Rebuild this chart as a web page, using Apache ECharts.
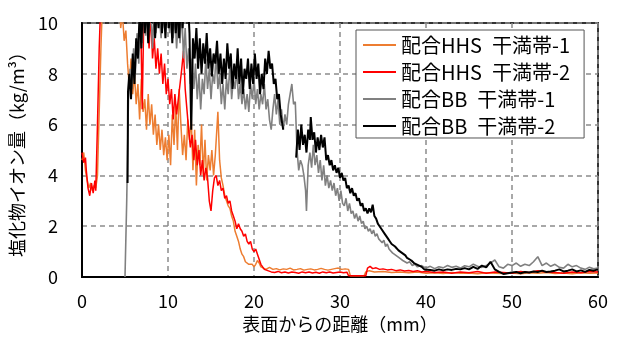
<!DOCTYPE html>
<html>
<head>
<meta charset="utf-8">
<script src="https://cdn.jsdelivr.net/npm/echarts@6/dist/echarts.min.js"></script>
<style>
  html, body { margin: 0; padding: 0; background: #fff; }
  #chart { width: 618px; height: 340px; }
</style>
</head>
<body>
<div id="chart"></div>
<script>
const seriesNames = ["配合HHS\u2002干満帯-1", "配合HHS\u2002干満帯-2", "配合BB\u2002干満帯-1", "配合BB\u2002干満帯-2"];
const xTicks = [0, 10, 20, 30, 40, 50, 60];
const yTicks = [0, 2, 4, 6, 8, 10];

// [距離 mm, 塩化物イオン量 kg/m3]; values above 10 run off the top
const hhs1 = [
  [0,4.6],[0.2,4.9],[0.4,4.2],[0.6,3.8],[0.8,3.5],[1.0,3.7],[1.2,3.4],[1.4,3.6],[1.6,3.5],[1.8,4.0],
  [2.0,6.5],[2.2,9.0],[2.4,11],[3.0,12],[4.0,12],[4.3,11.2],[4.5,9.8],[4.7,10.4],[4.9,9.3],[5.1,9.7],
  [5.3,8.4],[5.5,7.5],[5.7,8.6],[5.9,7.2],[6.1,8.0],[6.3,6.8],[6.5,7.6],[6.7,6.2],[6.9,7.8],[7.1,6.5],
  [7.3,7.0],[7.5,5.8],[7.7,7.2],[7.9,6.0],[8.1,6.8],[8.3,5.6],[8.5,6.4],[8.7,5.2],[8.9,6.0],[9.1,5.0],
  [9.3,5.8],[9.5,4.8],[9.7,5.5],[9.9,4.6],[10.1,5.6],[10.3,4.4],[10.5,6.4],[10.7,5.2],[10.9,6.8],[11.1,5.0],
  [11.3,7.4],[11.5,6.0],[11.7,4.8],[11.9,5.6],[12.1,4.6],[12.3,6.2],[12.5,5.4],[12.7,6.3],[12.9,4.2],[13.1,5.8],
  [13.3,3.6],[13.5,5.2],[13.7,4.4],[13.9,6.0],[14.1,4.0],[14.3,5.4],[14.5,3.8],[14.7,4.8],[14.9,4.2],[15.1,5.0],
  [15.3,4.0],[15.5,4.8],[15.8,6.5],[16.0,4.6],[16.2,3.9],[16.4,3.6],[16.6,3.2],[16.8,3.0],[17.0,2.8],[17.2,2.7],
  [17.4,2.4],[17.6,2.2],[17.8,1.8],[18.0,1.6],[18.2,1.4],[18.4,1.1],[18.6,0.9],[18.8,0.8],[19.0,0.6],[19.2,0.6],
  [19.4,0.5],[19.6,0.45],[19.8,0.5],[20.0,0.4],[20.2,0.5],[20.4,0.65],[20.6,0.55],[20.8,0.4],[21.0,0.35],[21.4,0.3],
  [21.8,0.38],[22.2,0.3],[22.6,0.33],[23.0,0.28],[23.4,0.32],[23.8,0.3],[24.2,0.35],[24.6,0.28],[25.0,0.3],[25.4,0.33],
  [25.8,0.27],[26.2,0.3],[26.6,0.32],[27.0,0.28],[27.4,0.3],[27.8,0.34],[28.2,0.3],[28.6,0.27],[29.0,0.3],[29.4,0.33],
  [29.8,0.35],[30.2,0.3],[30.6,0.32],[31.0,0.3],[31.2,0.05],[32.8,0.05],[33.0,0.2],[33.4,0.25],[34,0.2],[35,0.22],
  [36,0.18],[37,0.2],[38,0.17],[39,0.2],[40,0.15],[41,0.17],[42,0.14],[43,0.18],[44,0.15],[45,0.16],
  [46,0.13],[47,0.17],[48,0.15],[49,0.14],[50,0.16],[51,0.13],[52,0.17],[53,0.15],[54,0.18],[55,0.14],
  [56,0.16],[57,0.13],[58,0.17],[59,0.15],[60,0.16]
];

const hhs2 = [
  [0,4.9],[0.2,4.5],[0.4,4.7],[0.5,4.2],[0.7,3.5],[0.9,3.2],[1.1,3.7],[1.3,3.3],[1.5,3.8],[1.6,3.4],
  [1.8,6.0],[2.0,9.0],[2.2,11],[3,12],[6.5,12],[6.8,10.8],[7.0,6.6],[7.2,10.5],[7.4,11],[7.6,10.2],
  [7.8,9.0],[8.0,10.4],[8.2,8.6],[8.4,9.4],[8.6,8.2],[8.8,9.0],[9.0,8.0],[9.2,8.8],[9.4,7.6],[9.6,8.4],
  [9.8,7.2],[10.0,7.8],[10.2,6.8],[10.4,7.4],[10.6,6.2],[10.8,7.2],[11.0,6.4],[11.2,7.0],[11.4,7.6],[11.6,8.2],
  [11.8,8.9],[12.0,7.4],[12.2,6.6],[12.4,5.8],[12.6,5.1],[12.8,5.6],[13.0,4.6],[13.2,5.4],[13.4,4.4],[13.6,5.0],
  [13.8,4.0],[14.0,4.6],[14.2,3.8],[14.4,4.3],[14.6,3.9],[14.8,3.0],[15.0,2.6],[15.2,3.4],[15.4,3.9],[15.6,4.0],
  [15.8,3.6],[16.0,3.8],[16.2,3.4],[16.4,3.5],[16.6,3.1],[16.8,3.2],[17.0,2.9],[17.2,3.0],[17.4,2.6],[17.6,2.4],
  [17.8,2.2],[18.0,1.9],[18.2,2.1],[18.4,1.9],[18.6,1.8],[18.8,1.6],[19.0,1.7],[19.2,1.4],[19.4,1.3],[19.6,1.4],
  [19.8,1.1],[20.0,1.0],[20.2,1.1],[20.4,0.9],[20.6,0.7],[20.8,0.5],[21.0,0.4],[21.2,0.3],[21.6,0.25],[22.0,0.2],
  [22.4,0.18],[22.8,0.22],[23.2,0.17],[23.6,0.2],[24.0,0.16],[24.4,0.2],[24.8,0.18],[25.2,0.15],[25.6,0.2],[26.0,0.17],
  [26.4,0.2],[26.8,0.16],[27.2,0.19],[27.6,0.15],[28.0,0.2],[28.4,0.17],[28.8,0.2],[29.2,0.16],[29.6,0.18],[30.0,0.2],
  [30.4,0.17],[30.8,0.19],[31.0,0.05],[33.0,0.05],[33.2,0.35],[33.5,0.42],[33.8,0.33],[34.2,0.36],[34.6,0.3],[35.0,0.32],
  [35.5,0.28],[36.0,0.3],[36.5,0.25],[37.0,0.28],[37.5,0.24],[38.0,0.26],[38.5,0.22],[39.0,0.25],[39.5,0.2],[40.0,0.22],
  [41,0.18],[42,0.2],[43,0.15],[44,0.2],[45,0.17],[46,0.22],[47,0.15],[48,0.2],[49,0.18],[50,0.15],
  [51,0.22],[52,0.18],[53,0.25],[54,0.2],[55,0.18],[56,0.15],[57,0.2],[58,0.17],[59,0.22],[60,0.2]
];

const bb1 = [
  [5.0,0],[5.2,3.0],[5.4,7.0],[5.6,8.2],[5.8,7.4],[6.0,9.0],[6.2,8.0],[6.4,9.6],[6.6,8.4],[6.8,10.5],
  [7.0,9.2],[7.2,10.8],[7.4,9.5],[7.6,11],[7.8,9.8],[8.0,10.6],[8.2,9.0],[8.4,10.4],[8.6,9.6],[8.8,11],
  [9.0,10.2],[9.2,9.4],[9.4,10.8],[9.6,9.8],[9.8,11],[10.0,10.2],[10.2,9.6],[10.4,10.8],[10.6,9.4],[10.8,10.4],
  [11.0,9.0],[11.2,10.2],[11.4,9.2],[11.6,10.6],[11.8,8.6],[12.0,9.8],[12.2,8.2],[12.4,9.0],[12.6,7.6],[12.8,8.6],
  [13.0,7.4],[13.2,8.4],[13.4,7.0],[13.6,8.0],[13.8,6.6],[14.0,7.8],[14.2,7.2],[14.4,8.6],[14.6,7.4],[14.8,8.2],
  [15.0,7.0],[15.2,8.0],[15.4,7.6],[15.6,8.8],[15.8,7.4],[16.0,8.0],[16.2,6.8],[16.4,7.6],[16.6,6.6],[16.8,7.8],
  [17.0,7.2],[17.2,8.4],[17.4,7.0],[17.6,7.8],[17.8,7.4],[18.0,8.2],[18.2,7.0],[18.4,7.6],[18.6,6.8],[18.8,7.4],
  [19.0,6.6],[19.2,7.2],[19.4,6.5],[19.6,7.6],[19.8,7.0],[20.0,7.8],[20.2,6.8],[20.4,7.4],[20.6,6.6],[20.8,7.2],
  [21.0,6.8],[21.2,7.6],[21.4,6.6],[21.6,7.0],[21.8,6.2],[22.0,5.8],[22.2,6.6],[22.4,7.2],[22.6,6.4],[22.8,7.0],
  [23.0,6.0],[23.2,6.6],[23.4,5.8],[23.6,6.4],[23.8,6.0],[24.0,6.8],[24.2,7.2],[24.4,7.6],[24.6,6.8],[24.8,6.9],
  [25.0,5.0],[25.2,4.2],[25.4,4.6],[25.6,4.4],[25.8,4.0],[26.0,3.4],[26.1,2.6],[26.3,4.4],[26.5,4.9],[26.7,4.3],
  [26.9,5.2],[27.1,4.4],[27.3,4.8],[27.5,4.1],[27.7,4.6],[27.9,3.8],[28.1,4.4],[28.3,3.6],[28.5,4.0],[28.7,3.5],
  [28.9,3.8],[29.1,3.4],[29.3,3.7],[29.5,3.2],[29.7,3.5],[29.9,3.0],[30.1,3.4],[30.3,2.9],[30.5,2.8],[30.7,3.1],
  [30.9,2.6],[31.1,2.9],[31.3,2.5],[31.5,2.6],[31.7,2.3],[31.9,2.5],[32.1,2.2],[32.3,2.4],[32.5,2.1],[32.7,2.2],
  [32.9,1.9],[33.1,2.0],[33.3,1.8],[33.5,1.9],[33.7,1.7],[33.9,1.85],[34.1,1.6],[34.3,1.7],[34.5,1.5],[34.7,1.55],
  [34.9,1.35],[35.1,1.45],[35.3,1.2],[35.5,1.3],[35.7,1.1],[35.9,1.15],[36.1,0.95],[36.3,1.0],[36.5,0.85],[36.7,0.9],
  [36.9,0.75],[37.1,0.8],[37.3,0.65],[37.5,0.7],[37.8,0.55],[38.1,0.6],[38.4,0.45],[38.7,0.5],[39.0,0.4],[39.5,0.45],
  [40,0.35],[40.5,0.42],[41,0.33],[41.5,0.4],[42,0.36],[42.5,0.45],[43,0.38],[43.5,0.42],[44,0.35],[44.5,0.44],
  [45,0.4],[45.5,0.5],[46,0.42],[46.5,0.38],[47,0.45],[47.5,0.55],[48,0.67],[48.5,0.4],[49,0.35],[49.5,0.5],
  [50,0.45],[50.5,0.55],[51,0.42],[51.5,0.5],[52,0.45],[52.5,0.6],[53,0.8],[53.5,0.45],[54,0.55],[54.5,0.42],
  [55,0.5],[55.5,0.38],[56,0.35],[56.5,0.5],[57,0.4],[57.5,0.45],[58,0.35],[58.5,0.3],[59,0.38],[59.5,0.32],[60,0.35]
];

const bb2 = [
  [5.3,3.7],[5.35,7.3],[5.5,8.0],[5.7,7.0],[5.9,8.8],[6.1,7.6],[6.3,9.4],[6.5,8.6],[6.7,10.4],[6.9,9.0],
  [7.1,11],[7.3,9.6],[7.5,10.8],[7.7,9.2],[7.9,11],[8.1,10],[8.3,11],[8.5,9.4],[8.7,10.6],[8.9,9.8],
  [9.1,11],[9.3,9.6],[9.5,10.8],[9.7,9.4],[9.9,11],[10.1,9.8],[10.3,10.8],[10.5,9.2],[10.7,11],[10.9,9.6],
  [11.1,10.6],[11.3,9.4],[11.5,10.8],[11.7,9.8],[11.9,11],[12.1,10.2],[12.3,11],[12.5,9.6],[12.7,5.8],[12.9,9.4],
  [13.1,8.6],[13.3,9.8],[13.5,8.2],[13.7,9.4],[13.9,8.0],[14.1,9.2],[14.3,8.4],[14.5,9.6],[14.7,8.2],[14.9,9.0],
  [15.1,7.9],[15.3,8.8],[15.5,8.4],[15.7,9.3],[15.9,8.0],[16.1,8.8],[16.3,7.6],[16.5,8.6],[16.7,7.8],[16.9,9.2],
  [17.1,8.2],[17.3,8.8],[17.5,7.4],[17.7,8.4],[17.9,7.8],[18.1,9.0],[18.3,7.6],[18.5,8.6],[18.7,7.2],[18.9,8.2],
  [19.1,7.8],[19.3,8.6],[19.5,7.4],[19.7,8.4],[19.9,7.6],[20.1,8.8],[20.3,7.8],[20.5,8.4],[20.7,7.2],[20.9,8.0],
  [21.1,7.4],[21.3,8.6],[21.5,8.0],[21.7,8.9],[21.9,8.2],[22.1,8.4],[22.3,7.6],[22.5,7.8],[22.7,7.0],[22.9,7.2],
  [23.1,6.4],[23.3,6.0],[23.4,5.8],[24.2,null],
  [24.9,4.7],[25.1,5.8],[25.3,5.0],[25.5,6.0],[25.7,5.2],[25.9,5.6],[26.1,4.9],[26.3,5.8],[26.5,5.4],[26.6,6.3],
  [26.8,5.4],[27.0,5.7],[27.2,4.9],[27.4,5.5],[27.6,5.0],[27.8,5.6],[28.0,5.1],[28.2,5.5],[28.4,4.6],[28.6,4.8],
  [28.8,4.4],[29.0,4.6],[29.2,4.2],[29.4,4.4],[29.6,4.1],[29.8,4.3],[30.0,3.9],[30.2,4.1],[30.4,3.8],[30.6,3.9],
  [30.8,3.5],[31.0,3.6],[31.2,3.3],[31.4,3.5],[31.6,3.2],[31.8,3.3],[32.0,3.0],[32.2,3.1],[32.4,2.8],[32.6,2.9],
  [32.8,2.6],[33.0,2.7],[33.2,2.5],[33.4,2.7],[33.6,2.55],[33.8,2.85],[34.0,2.4],[34.2,2.3],[34.4,2.1],[34.6,2.0],
  [34.8,1.9],[35.0,1.85],[35.2,1.7],[35.4,1.6],[35.6,1.5],[35.8,1.4],[36.0,1.3],[36.2,1.35],[36.4,1.2],[36.6,1.15],
  [36.8,1.05],[37.0,1.05],[37.2,0.95],[37.4,0.9],[37.6,0.85],[37.8,0.75],[38.0,0.75],[38.3,0.65],[38.6,0.55],[38.9,0.5],
  [39.2,0.45],[39.5,0.4],[39.8,0.3],[40,0.3],[40.5,0.28],[41,0.25],[41.5,0.3],[42,0.26],[42.5,0.3],[43,0.28],
  [43.5,0.32],[44,0.3],[44.5,0.35],[45,0.3],[45.5,0.4],[46,0.32],[46.5,0.45],[47,0.38],[47.5,0.6],[48,0.3],
  [48.5,0.2],[49,0.12],[49.5,0.15],[50,0.18],[50.5,0.2],[51,0.15],[51.5,0.2],[52,0.18],[52.5,0.22],[53,0.2],
  [53.5,0.25],[54,0.2],[54.5,0.22],[55,0.25],[55.5,0.3],[56,0.22],[56.5,0.25],[57,0.3],[57.5,0.22],[58,0.26],
  [58.5,0.2],[59,0.28],[59.5,0.25],[60,0.3]
];

const font = "'Noto Sans CJK JP', 'Noto Sans', sans-serif";
const chart = echarts.init(document.getElementById("chart"), null, { renderer: "canvas" });

function lineSeries(name, data, color, width) {
  return {
    name: name,
    type: "line",
    data: data,
    symbol: "none",
    showSymbol: false,
    clip: true,
    connectNulls: false,
    animation: false,
    lineStyle: { color: color, width: width },
    itemStyle: { color: color }
  };
}

chart.setOption({
  animation: false,
  backgroundColor: "#fff",
  textStyle: { fontFamily: font },
  grid: {
    left: 80, right: 20, top: 23, bottom: 63,
    show: true, borderColor: "#333", borderWidth: 2, backgroundColor: "transparent"
  },
  legend: {
    orient: "vertical",
    left: 356, top: 30,
    itemWidth: 33, itemHeight: 14, itemGap: 7,
    padding: [5, 14, 2, 6],
    backgroundColor: "#fff",
    borderColor: "#555", borderWidth: 1, borderRadius: 0,
    itemStyle: { opacity: 0 },
    textStyle: { fontSize: 20, color: "#000", fontFamily: font },
    data: seriesNames
  },
  xAxis: {
    type: "value",
    min: xTicks[0], max: xTicks[xTicks.length - 1], interval: 10,
    name: "表面からの距離（mm）",
    nameLocation: "middle", nameGap: 36,
    nameTextStyle: { fontSize: 18, color: "#000", fontFamily: font },
    axisLine: { show: true, lineStyle: { color: "#000", width: 2 } },
    axisTick: { show: false },
    axisLabel: { fontSize: 18, color: "#000", margin: 15, fontFamily: font },
    splitLine: { show: true, lineStyle: { color: "#8c8c8c", width: 1.5, type: [5, 4] } }
  },
  yAxis: {
    type: "value",
    min: yTicks[0], max: yTicks[yTicks.length - 1], interval: 2,
    name: "塩化物イオン量（kg/m³）",
    nameLocation: "middle", nameGap: 56, nameRotate: 90,
    nameTextStyle: { fontSize: 18, color: "#000", fontFamily: font },
    axisLine: { show: true, lineStyle: { color: "#000", width: 2 } },
    axisTick: { show: false },
    axisLabel: { fontSize: 18, color: "#000", margin: 24, fontFamily: font },
    splitLine: { show: true, lineStyle: { color: "#8c8c8c", width: 1.5, type: [5, 4] } }
  },
  series: [
    lineSeries(seriesNames[0], hhs1, "#ED7D31", 1.5),
    lineSeries(seriesNames[1], hhs2, "#FF0000", 1.5),
    lineSeries(seriesNames[2], bb1, "#808080", 1.6),
    lineSeries(seriesNames[3], bb2, "#000000", 2)
  ]
});
</script>
</body>
</html>
